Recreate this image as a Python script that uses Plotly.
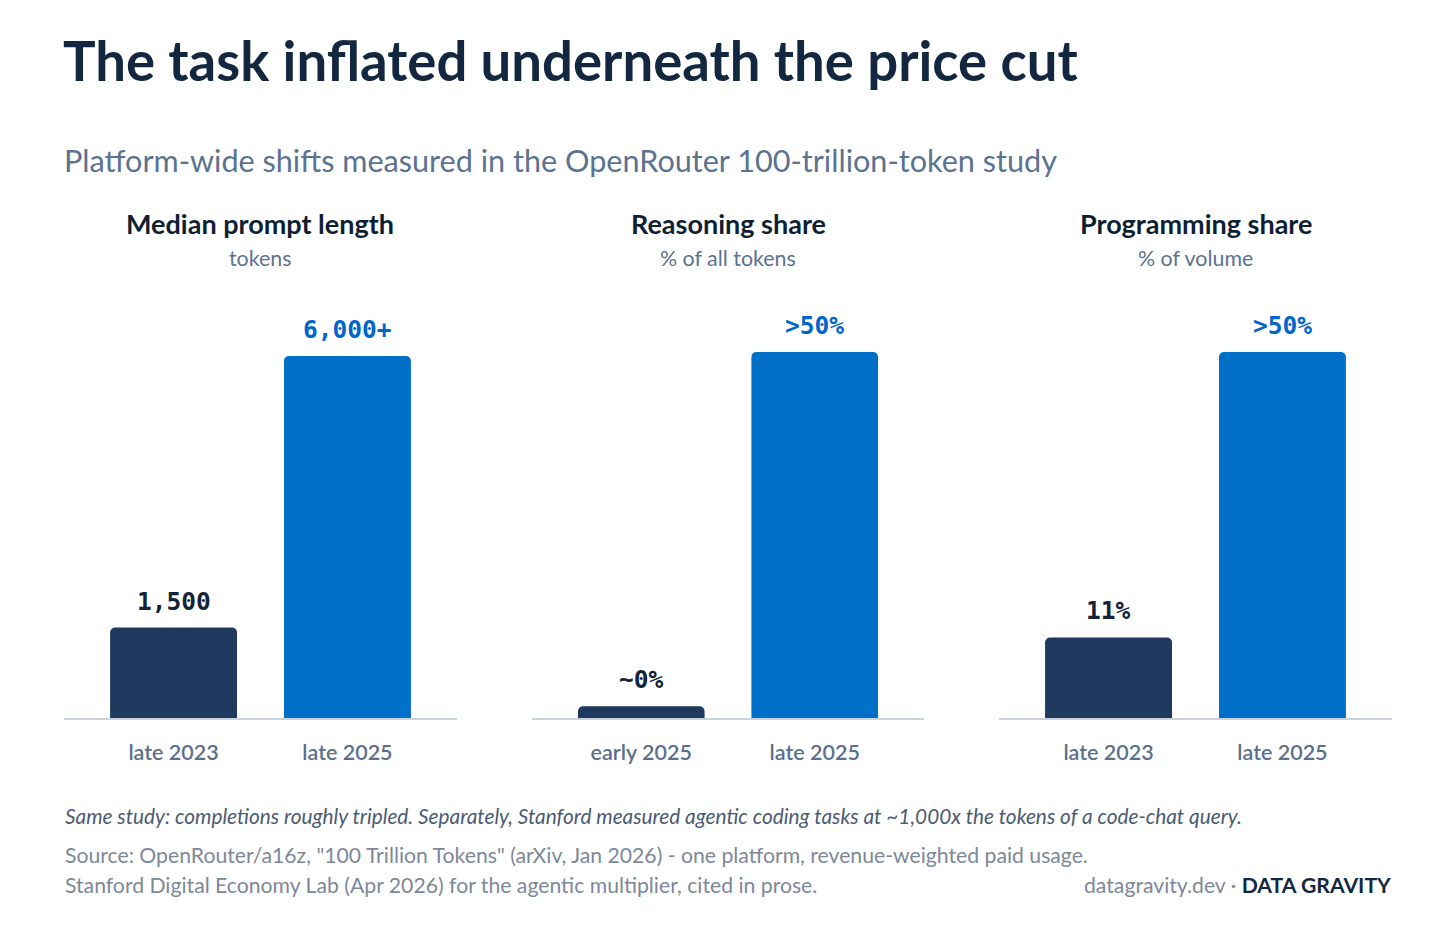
import plotly.graph_objects as go

# panel data
panel_titles = ["Median prompt length", "Reasoning share", "Programming share"]
panel_units = ["tokens", "% of all tokens", "% of volume"]
categories = [
    ["late 2023", "late 2025"],
    ["early 2025", "late 2025"],
    ["late 2023", "late 2025"],
]
values = [
    [1500, 6000],
    [1.6, 50],
    [11, 50],
]
value_labels = [
    ["1,500", "6,000+"],
    ["~0%", ">50%"],
    ["11%", ">50%"],
]
y_max = [6928, 57.1, 57.1]

# page has an 8px body margin, so the figure is drawn 8px in from the corner
OFF = 8
W, H = 1456 - 2 * OFF, 933 - 2 * OFF
DARK = "#1f3a5f"
BLUE = "#006fc8"
bar_colors = [DARK, BLUE]
label_colors = ["#14233a", "#0066cc"]

x_domains = [(64, 457), (532, 924), (999, 1392)]


def px(x):
    return (x - OFF) / W


def py(y):
    return 1 - (y - OFF) / H


y_domain = [py(718), py(300)]

fig = go.Figure()
annotations = []
layout_axes = {}

for i in range(3):
    n = "" if i == 0 else str(i + 1)
    xa, ya = "x" + n, "y" + n
    fig.add_trace(go.Bar(
        x=categories[i], y=values[i],
        marker=dict(color=bar_colors, cornerradius=5, line_width=0),
        width=0.73, xaxis=xa, yaxis=ya, showlegend=False, hoverinfo="skip",
    ))
    layout_axes["xaxis" + n] = dict(
        domain=[px(x_domains[i][0]), px(x_domains[i][1])],
        range=[-0.63, 1.63], anchor=ya, showline=True, linecolor="#c9d3df",
        linewidth=2, showgrid=False, zeroline=False, ticks="",
        ticklabelstandoff=14,
        tickfont=dict(family="Lato", size=21.5, color="#5b6f8c", weight=600),
    )
    layout_axes["yaxis" + n] = dict(
        domain=y_domain, range=[0, y_max[i]], anchor=xa,
        visible=False, showgrid=False, zeroline=False,
    )
    cx = px((x_domains[i][0] + x_domains[i][1]) / 2)
    annotations.append(dict(
        text=panel_titles[i], x=cx, y=py(224), xref="paper", yref="paper",
        showarrow=False, xanchor="center", yanchor="middle",
        font=dict(family="Lato", size=27, color="#0f1f33", weight="bold"),
    ))
    annotations.append(dict(
        text=panel_units[i], x=cx, y=py(258), xref="paper", yref="paper",
        showarrow=False, xanchor="center", yanchor="middle",
        font=dict(family="Lato", size=21.4, color="#5b7290"),
    ))
    for j in range(2):
        annotations.append(dict(
            text=value_labels[i][j], x=categories[i][j], y=values[i][j],
            xref=xa, yref=ya, showarrow=False, xanchor="center",
            yanchor="bottom", yshift=10,
            font=dict(family="DejaVu Sans Mono", size=24.5,
                      color=label_colors[j], weight="bold"),
        ))

# title block and footer
annotations += [
    dict(text="The task inflated underneath the price cut", x=px(61), y=py(60),
         xanchor="left", yanchor="middle",
         font=dict(family="Lato", size=54.5, color="#132840", weight="bold")),
    dict(text="Platform-wide shifts measured in the OpenRouter 100-trillion-token study",
         x=px(62), y=py(161), xanchor="left", yanchor="middle",
         font=dict(family="Lato", size=30.6, color="#5b7290")),
    dict(text="<i>Same study: completions roughly tripled. Separately, Stanford measured "
              "agentic coding tasks at ~1,000x the tokens of a code-chat query.</i>",
         x=px(63), y=py(815), xanchor="left", yanchor="middle",
         font=dict(family="Lato", size=20.8, color="#4b5b73")),
    dict(text='Source: OpenRouter/a16z, "100 Trillion Tokens" (arXiv, Jan 2026) - '
              'one platform, revenue-weighted paid usage.',
         x=px(63), y=py(855), xanchor="left", yanchor="middle",
         font=dict(family="Lato", size=21.2, color="#7d8898")),
    dict(text="Stanford Digital Economy Lab (Apr 2026) for the agentic multiplier, cited in prose.",
         x=px(63), y=py(885), xanchor="left", yanchor="middle",
         font=dict(family="Lato", size=21.2, color="#7d8898")),
    dict(text='datagravity.dev · <b><span style="color:#132840">DATA GRAVITY</span></b>',
         x=px(1393), y=py(885), xanchor="right", yanchor="middle",
         font=dict(family="Lato", size=21.2, color="#7d8898")),
]
for a in annotations[-6:]:
    a.update(xref="paper", yref="paper", showarrow=False)

fig.update_layout(
    width=W, height=H,
    margin=dict(l=0, r=0, t=0, b=0),
    paper_bgcolor="white", plot_bgcolor="white",
    annotations=annotations,
    **layout_axes,
)

fig.write_html("out.html")
